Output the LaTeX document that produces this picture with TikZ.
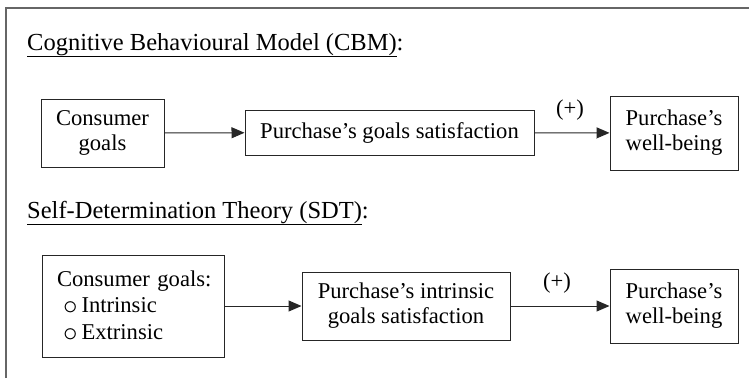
\documentclass[tikz,border=0pt]{standalone}
\usepackage{fontspec}
\setmainfont{Liberation Serif}
\usetikzlibrary{arrows.meta}
\newcommand{\openbullet}{\raisebox{-1.7pt}{\scalebox{1.4}{$\circ$}}}
\begin{document}
\begin{tikzpicture}[x=1pt,y=-1pt,
  box/.style={draw=black!85,line width=1pt,inner sep=0pt,align=center,font=\fontsize{22.6}{25}\selectfont},
  lbl/.style={inner sep=0pt,font=\fontsize{22.6}{25}\selectfont},
  ttl/.style={inner sep=0pt,font=\fontsize{24.5}{27}\selectfont},
  arr/.style={line width=1pt,draw=black!85,-{Triangle[length=13pt,width=11pt]}}]
\useasboundingbox (0,0) rectangle (749,378);
\coordinate (fb) at (6,378);
\coordinate (fl) at (6,8);
\coordinate (fr) at (749,8);
\draw[black!60,line width=1.2pt] (fb) -- (fl) -- (fr);
% CBM
\node[ttl,anchor=base west] (t1) at (27,50) {\underline{Cognitive Behavioural Model (CBM)}:};
\node[box,minimum width=123pt,minimum height=68pt] (a1) at (102.5,133) {Consumer\\goals};
\node[box,minimum width=289pt,minimum height=45pt] (a2) at (389.5,132.5) {Purchase’s goals satisfaction};
\node[box,minimum width=128pt,minimum height=74pt] (a3) at (674,133) {Purchase’s\\well-being};
\draw[arr] (a1) -- (a2);
\draw[arr] (a2) -- node[lbl,above=12pt,xshift=-2pt] (p1) {(+)} (a3);
% SDT
\node[ttl,anchor=base west] (t2) at (27,218) {\underline{Self-Determination Theory (SDT)}:};
\node[box,minimum width=182pt,minimum height=102pt,text width=182pt,align=left,font=\fontsize{22.6}{26.5}\selectfont] (b1) at (133,306) {\hspace*{15pt}Consumer goals:\\\hspace*{21pt}\openbullet\hspace{4pt}Intrinsic\\\hspace*{21pt}\openbullet\hspace{4pt}Extrinsic};
\node[box,minimum width=208pt,minimum height=68pt] (b2) at (406,306) {Purchase’s intrinsic\\goals satisfaction};
\node[box,minimum width=128pt,minimum height=74pt] (b3) at (674,306) {Purchase’s\\well-being};
\draw[arr] (b1) -- (b2);
\draw[arr] (b2) -- node[lbl,above=12pt,xshift=-3pt] (p2) {(+)} (b3);
\end{tikzpicture}
\end{document}
